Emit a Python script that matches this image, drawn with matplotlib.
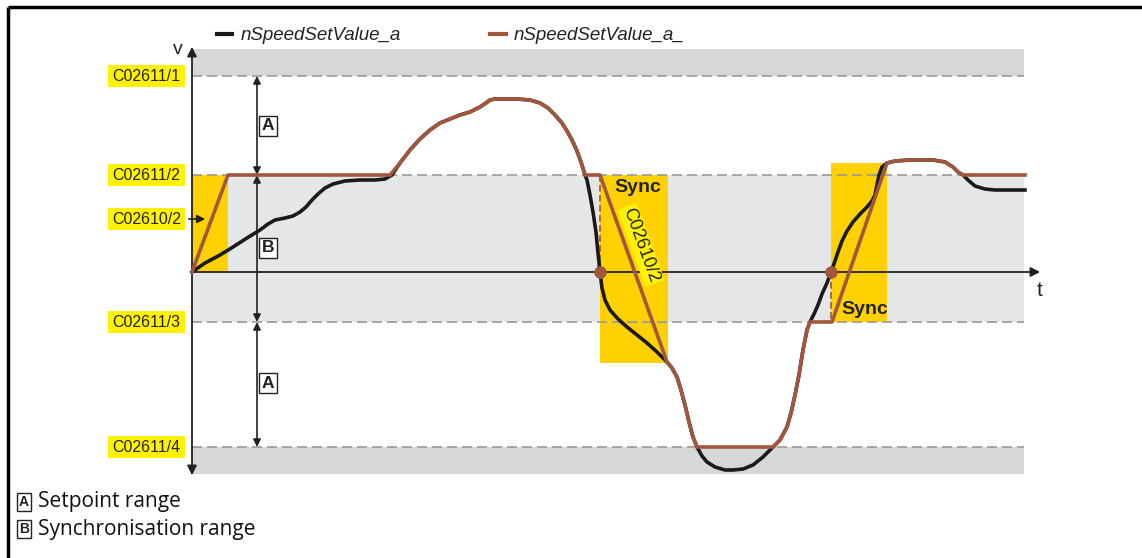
import matplotlib
matplotlib.use("Agg")
import matplotlib.pyplot as plt
from matplotlib.patches import Rectangle

# level lines (pixel rows of the drawing) and their labels
level_names = ["C02611/1", "C02611/2", "C02610/2", "C02611/3", "C02611/4"]
level_y = [76, 175, 219, 322, 447]

# nSpeedSetValue_a_ (brown)
brown_t = [192, 228, 390, 400, 410, 420, 430, 440, 450, 460, 470, 480, 486, 490, 495, 517,
           530, 540, 548, 555, 562, 567, 572, 577, 581, 585, 600, 667, 672, 677, 681, 685,
           689, 693, 697, 773, 780, 787, 791, 795, 799, 803, 807, 810, 832, 887, 895, 910,
           933, 945, 953, 958, 963, 1025]
brown_v = [272, 175, 175, 163, 150, 139, 130, 123, 119, 115, 112, 107, 103, 100, 99, 99,
           100, 103, 108, 115, 123, 131, 140, 151, 162, 175, 175, 362, 368, 377, 390, 405,
           422, 437, 447, 447, 440, 427, 413, 395, 375, 350, 330, 322, 322, 163, 161, 160,
           160, 162, 167, 172, 175, 175]

# nSpeedSetValue_a (black)
black_t = [192, 205, 220, 233, 247, 260, 268, 275, 285, 293, 300, 306, 312, 318, 325, 333,
           345, 360, 375, 385, 392, 400, 410, 420, 430, 440, 450, 460, 470, 480, 486, 490,
           495, 517, 530, 540, 548, 555, 562, 567, 572, 577, 581, 585, 587, 590, 593, 596,
           598, 600, 602, 605, 610, 618, 627, 637, 647, 657, 667, 672, 677, 681, 685, 689,
           693, 697, 702, 707, 715, 725, 733, 743, 753, 763, 773, 780, 787, 791, 795, 799,
           803, 807, 810, 814, 818, 822, 827, 831, 835, 838, 842, 847, 853, 860, 867, 872,
           875, 877, 879, 882, 887, 895, 910, 933, 945, 953, 958, 963, 968, 975, 985, 995,
           1025]
black_v = [272, 263, 255, 247, 238, 230, 224, 220, 218, 216, 212, 207, 200, 194, 188, 184,
           181, 180, 180, 179, 175, 163, 150, 139, 130, 123, 119, 115, 112, 107, 103, 100,
           99, 99, 100, 103, 108, 115, 123, 131, 140, 151, 162, 175, 180, 195, 212, 232,
           253, 272, 288, 300, 310, 319, 327, 335, 343, 352, 362, 368, 377, 390, 405, 422,
           437, 447, 456, 462, 467, 470, 470, 469, 465, 457, 447, 440, 427, 413, 395, 375,
           350, 330, 322, 314, 305, 294, 283, 272, 261, 252, 241, 231, 222, 214, 207, 201,
           195, 185, 175, 167, 163, 161, 160, 160, 162, 167, 172, 175, 180, 186, 189, 190,
           190]

# sync windows: (t start, t end, v top, v bottom)
sync_t0 = [192, 600, 831]
sync_t1 = [228, 668, 887]
sync_top = [175, 175, 163]
sync_bot = [272, 363, 322]

BROWN = "#a0573c"
SYNC = "#ffd100"
LABEL = "#fff200"
GREY_DARK = "#d6d7d9"
GREY_LIGHT = "#e5e6e8"
DASH = "#9a9a9a"
INK = "#222222"

fig = plt.figure(figsize=(11.42, 5.58), dpi=100)
ax = fig.add_axes([0, 0, 1, 1])
ax.set_xlim(0, 1142)
ax.set_ylim(558, 0)
ax.axis("off")

# frame (top and left only)
ax.plot([8, 1142], [7, 7], color="black", lw=2.5, solid_capstyle="butt")
ax.plot([8, 8], [7, 558], color="black", lw=2.5, solid_capstyle="butt")

# bands
ax.add_patch(Rectangle((192, 49), 832, 27, color=GREY_DARK, lw=0))
ax.add_patch(Rectangle((192, 175), 832, 147, color=GREY_LIGHT, lw=0))
ax.add_patch(Rectangle((192, 447), 832, 27, color=GREY_DARK, lw=0))

# sync boxes
for a, b, top, bot in zip(sync_t0, sync_t1, sync_top, sync_bot):
    ax.add_patch(Rectangle((a, top), b - a, bot - top, color=SYNC, lw=0, zorder=2))

# dashed levels
for name, y in zip(level_names, level_y):
    if name != "C02610/2":
        ax.plot([192, 1024], [y, y], color=DASH, lw=1.2, ls=(0, (6, 3)), zorder=3)

# labels on the left
for name, y in zip(level_names, level_y):
    ax.add_patch(Rectangle((108, y - 11), 77, 22, color=LABEL, lw=0))
    ax.text(146.5, y + 0.5, name, ha="center", va="center", fontsize=11.5,
            family="Liberation Sans", color=INK)
ax.annotate("", xy=(208, 219), xytext=(186, 219),
            arrowprops=dict(arrowstyle="-|>", color=INK, lw=1.2, mutation_scale=12))

# axes arrows
ax.annotate("", xy=(192, 44), xytext=(192, 272),
            arrowprops=dict(arrowstyle="-|>", color=INK, lw=1.3, mutation_scale=14), zorder=4)
ax.annotate("", xy=(192, 478), xytext=(192, 272),
            arrowprops=dict(arrowstyle="-|>", color=INK, lw=1.3, mutation_scale=14), zorder=4)
ax.annotate("", xy=(1043, 272), xytext=(192, 272),
            arrowprops=dict(arrowstyle="-|>", color=INK, lw=1.3, mutation_scale=14), zorder=4)
ax.text(178, 50, "v", ha="center", va="center", fontsize=14, family="Liberation Sans", color=INK)
ax.text(1040, 291, "t", ha="center", va="center", fontsize=15, family="Liberation Sans", color=INK)

# range dimension arrows
for y0, y1, letter, ly in [(76, 175, "A", 126), (175, 322, "B", 248), (322, 447, "A", 383)]:
    ax.annotate("", xy=(257, y0), xytext=(257, y1),
                arrowprops=dict(arrowstyle="<|-|>", color=INK, lw=1.2,
                                mutation_scale=11, shrinkA=0, shrinkB=0), zorder=4)
    ax.text(268, ly, letter, ha="center", va="center", fontsize=12.5, fontweight="bold",
            family="Liberation Sans", color=INK,
            bbox=dict(boxstyle="square,pad=0.15", fc="white", ec=INK, lw=1))

# dashed sync markers
ax.plot([600, 600], [175, 272], color=BROWN, lw=1.2, ls=(0, (4, 2)), zorder=5)
ax.plot([831, 831], [272, 322], color=BROWN, lw=1.2, ls=(0, (4, 2)), zorder=5)

# curves
ax.plot(black_t, black_v, color="#1a1a1a", lw=2.6, zorder=6, solid_joinstyle="round")
ax.plot(brown_t, brown_v, color=BROWN, lw=2.6, zorder=7, solid_joinstyle="round")

# sync points
ax.plot([600, 831], [272, 272], "o", color=BROWN, ms=8, zorder=8)

# sync texts
ax.text(638, 188, "Sync", ha="center", va="center", fontsize=14, fontweight="bold",
        family="Liberation Sans", color=INK, zorder=9)
ax.text(865, 309, "Sync", ha="center", va="center", fontsize=14, fontweight="bold",
        family="Liberation Sans", color=INK, zorder=9)
ax.text(641, 245, "C02610/2", ha="center", va="center", rotation=-70, rotation_mode="anchor",
        fontsize=13, family="Liberation Sans", color=INK, zorder=9,
        bbox=dict(boxstyle="square,pad=0.1", fc=LABEL, ec="none"))

# legend
ax.plot([217, 232], [34, 34], color="#1a1a1a", lw=3)
ax.text(241, 35, "nSpeedSetValue_a", ha="left", va="center", fontsize=13.5, style="italic",
        family="Liberation Sans", color=INK)
ax.plot([490, 506], [34, 34], color=BROWN, lw=3)
ax.text(514, 35, "nSpeedSetValue_a_", ha="left", va="center", fontsize=13.5, style="italic",
        family="Liberation Sans", color=INK)

# footnotes
for letter, text, y in [("A", "Setpoint range", 502), ("B", "Synchronisation range", 529)]:
    ax.text(24, y, letter, ha="center", va="center", fontsize=10, fontweight="bold",
            family="Liberation Sans", color=INK,
            bbox=dict(boxstyle="square,pad=0.15", fc="white", ec=INK, lw=1))
    ax.text(38, y, text, ha="left", va="center", fontsize=15, family="Open Sans", color="#111111")

fig.savefig("out.png", dpi=100)
